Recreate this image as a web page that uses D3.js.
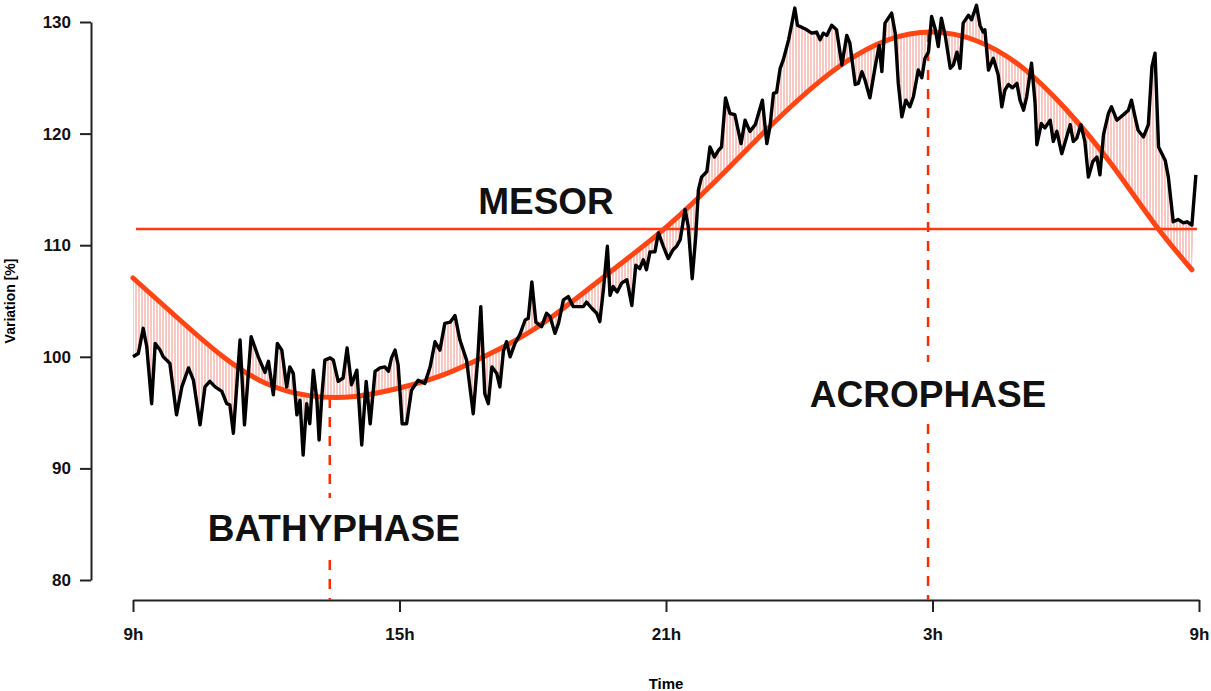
<!DOCTYPE html>
<html>
<head>
<meta charset="utf-8">
<script src="https://cdn.jsdelivr.net/npm/d3@7"></script>
<style>
  body { margin: 0; background: #fff; }
  text { font-family: "Liberation Sans", Arial, sans-serif; font-weight: bold; }
</style>
</head>
<body>
<svg id="chart" width="1211" height="691"></svg>
<script>
// hours since 9h and measured variation (%)
const obsHours = [0, 0.12, 0.23, 0.31, 0.42, 0.50, 0.61, 0.68, 0.76, 0.83, 0.98, 1.10, 1.25, 1.36, 1.51, 1.62, 1.73, 1.85, 2.00, 2.11, 2.18, 2.26, 2.41, 2.51, 2.66, 2.82, 2.97, 3.05, 3.16, 3.25, 3.35, 3.46, 3.53, 3.61, 3.69, 3.76, 3.83, 3.91, 3.98, 4.06, 4.14, 4.19, 4.25, 4.32, 4.44, 4.51, 4.62, 4.73, 4.82, 4.92, 5.04, 5.15, 5.25, 5.34, 5.45, 5.56, 5.67, 5.75, 5.82, 5.90, 5.97, 6.06, 6.16, 6.27, 6.42, 6.57, 6.69, 6.80, 6.91, 7.02, 7.14, 7.25, 7.36, 7.51, 7.66, 7.76, 7.83, 7.92, 8.00, 8.08, 8.19, 8.26, 8.34, 8.41, 8.49, 8.60, 8.71, 8.83, 8.90, 8.98, 9.07, 9.20, 9.31, 9.39, 9.50, 9.58, 9.69, 9.80, 9.91, 10.02, 10.14, 10.21, 10.33, 10.44, 10.51, 10.59, 10.68, 10.74, 10.81, 10.90, 11.00, 11.12, 11.23, 11.32, 11.41, 11.49, 11.56, 11.64, 11.75, 11.83, 11.94, 12.05, 12.16, 12.24, 12.32, 12.43, 12.50, 12.59, 12.67, 12.73, 12.80, 12.92, 12.99, 13.09, 13.18, 13.25, 13.34, 13.44, 13.55, 13.69, 13.78, 13.89, 14.01, 14.17, 14.27, 14.34, 14.42, 14.49, 14.57, 14.64, 14.76, 14.84, 14.90, 14.96, 15.02, 15.17, 15.28, 15.39, 15.47, 15.54, 15.62, 15.73, 15.84, 15.96, 16.07, 16.14, 16.26, 16.33, 16.41, 16.48, 16.59, 16.71, 16.80, 16.86, 16.93, 17.08, 17.16, 17.23, 17.31, 17.40, 17.49, 17.57, 17.68, 17.76, 17.83, 17.91, 17.98, 18.06, 18.13, 18.20, 18.29, 18.40, 18.47, 18.55, 18.62, 18.69, 18.81, 18.88, 18.99, 19.07, 19.14, 19.18, 19.26, 19.37, 19.48, 19.56, 19.63, 19.71, 19.80, 19.90, 19.97, 20.05, 20.12, 20.23, 20.31, 20.35, 20.45, 20.53, 20.65, 20.72, 20.80, 20.91, 21.02, 21.10, 21.17, 21.25, 21.34, 21.43, 21.51, 21.61, 21.70, 21.77, 21.85, 21.96, 22.03, 22.15, 22.30, 22.41, 22.48, 22.56, 22.63, 22.75, 22.86, 22.94, 23.01, 23.09, 23.24, 23.31, 23.42, 23.53, 23.65, 23.73, 23.84, 23.93];
const obsValues = [100.0, 100.3, 102.55, 100.9, 95.8, 101.2, 100.6, 100.0, 99.7, 99.4, 94.8, 97.3, 99.0, 97.9, 93.9, 97.3, 97.8, 97.3, 96.9, 95.8, 95.7, 93.15, 101.5, 93.9, 101.8, 100.0, 98.6, 99.6, 96.6, 101.2, 100.6, 97.3, 99.1, 98.5, 94.8, 96.1, 91.2, 95.8, 94.0, 98.8, 96.1, 92.55, 96.4, 99.7, 99.9, 99.7, 97.8, 98.1, 100.8, 97.5, 98.8, 92.1, 97.8, 94.0, 98.7, 99.0, 99.1, 98.7, 99.9, 100.6, 99.25, 94.0, 94.0, 97.0, 97.9, 97.6, 99.1, 101.35, 100.6, 103.0, 103.1, 103.7, 101.5, 99.7, 94.9, 99.7, 104.5, 96.7, 95.8, 99.1, 98.5, 97.3, 100.5, 101.35, 100.0, 101.2, 102.0, 103.3, 103.45, 106.7, 103.1, 102.7, 103.9, 103.6, 102.1, 103.0, 105.1, 105.4, 104.5, 104.5, 104.5, 104.9, 104.35, 103.9, 103.15, 106.0, 109.9, 105.5, 106.3, 105.8, 106.6, 106.9, 104.6, 108.2, 107.9, 108.7, 107.8, 109.4, 109.4, 111.1, 109.9, 108.8, 109.6, 109.9, 110.5, 113.2, 111.7, 107.0, 110.8, 114.95, 116.1, 116.6, 118.8, 117.9, 118.5, 118.8, 123.2, 121.8, 121.7, 119.1, 121.2, 120.2, 120.8, 123.0, 119.1, 120.6, 123.6, 123.7, 125.85, 126.6, 128.4, 130.0, 131.25, 129.7, 129.6, 129.3, 129.0, 129.1, 128.4, 129.0, 128.8, 129.7, 129.3, 126.15, 128.8, 128.1, 124.4, 124.5, 125.55, 124.8, 123.2, 126.0, 127.9, 125.55, 129.9, 130.8, 129.0, 124.5, 121.5, 123.0, 122.4, 123.3, 125.7, 125.0, 126.75, 127.3, 130.5, 129.4, 127.8, 130.35, 128.7, 125.85, 126.15, 127.3, 125.85, 129.9, 130.6, 130.2, 131.5, 129.7, 129.1, 129.3, 125.7, 126.75, 125.25, 122.4, 123.9, 124.4, 124.1, 124.5, 123.0, 122.1, 123.3, 126.3, 122.7, 119.0, 120.9, 120.5, 121.2, 119.3, 120.2, 118.2, 119.7, 120.8, 119.3, 119.6, 120.8, 119.3, 116.1, 117.5, 117.9, 116.3, 119.9, 121.8, 122.4, 121.2, 121.7, 122.1, 123.0, 121.5, 120.3, 119.7, 120.8, 126.0, 127.2, 118.8, 117.6, 116.1, 112.1, 112.3, 112.0, 112.1, 111.8, 116.3];

// fitted rhythm curve
const fitHours = [0, 1, 2, 3, 4, 5, 6, 7, 8, 9, 10, 11, 12, 13, 14, 15, 16, 17, 18, 19, 20, 21, 22, 23, 23.84];
const fitValues = [107.06, 103.5, 100.1, 97.6, 96.5, 96.45, 97.2, 98.4, 100.2, 102.4, 105.3, 108.4, 111.6, 115.3, 119.3, 123.1, 126.3, 128.4, 129.1, 128.3, 126.0, 122.2, 117.4, 111.9, 107.8];

const mesor = 111.45;
const bathyphaseHour = 4.43;
const bathyphaseValue = 96.3;
const acrophaseHour = 17.9;
const acrophaseValue = 129.1;

const yTicks = [80, 90, 100, 110, 120, 130];
const xTicks = [0, 6, 12, 18, 24];
const xTickLabels = ["9h", "15h", "21h", "3h", "9h"];

const svg = d3.select("#chart");

const x = d3.scaleLinear().domain([0, 24]).range([133, 1199]);
const y = d3.scaleLinear().domain([80, 130]).range([580, 22]);

const obs = obsHours.map((h, i) => [h, obsValues[i]]);
const fit = fitHours.map((h, i) => [h, fitValues[i]]);

// hatch pattern for the residual band
const defs = svg.append("defs");
const pat = defs.append("pattern")
  .attr("id", "hatch")
  .attr("patternUnits", "userSpaceOnUse")
  .attr("width", 3)
  .attr("height", 10);
pat.append("line")
  .attr("x1", 1).attr("x2", 1).attr("y1", 0).attr("y2", 10)
  .attr("stroke", "#f39a92")
  .attr("stroke-width", 1.1);

const obsLine = d3.line().x(d => x(d[0])).y(d => y(d[1]));
const fitLine = d3.line().x(d => x(d[0])).y(d => y(d[1])).curve(d3.curveNatural);

// band = observed path forward + fitted path backward
const backPath = fitLine(fit.slice().reverse());
svg.append("path")
  .attr("d", obsLine(obs) + "L" + backPath.slice(1) + "Z")
  .attr("fill", "url(#hatch)")
  .attr("fill-rule", "evenodd")
  .attr("stroke", "none");

// axes
const yAxis = svg.append("g")
  .attr("transform", "translate(91,0)")
  .call(d3.axisLeft(y).tickValues(yTicks).tickSize(11).tickSizeOuter(0).tickPadding(9));
const xAxis = svg.append("g")
  .attr("transform", "translate(0,600)")
  .call(d3.axisBottom(x).tickValues(xTicks).tickFormat((d, i) => xTickLabels[i])
    .tickSize(12).tickSizeOuter(0).tickPadding(16));
[yAxis, xAxis].forEach(g => {
  g.select(".domain").attr("stroke", "#222").attr("stroke-width", 2);
  g.selectAll(".tick line").attr("stroke", "#222").attr("stroke-width", 2);
  g.selectAll(".tick text").attr("fill", "#111").style("font-size", "17px")
    .style("font-family", "'Liberation Sans', Arial, sans-serif").style("font-weight", "bold");
});

svg.append("text")
  .attr("transform", "translate(15,301) rotate(-90)")
  .attr("text-anchor", "middle")
  .style("font-size", "14px")
  .text("Variation [%]");
svg.append("text")
  .attr("x", 666).attr("y", 689)
  .attr("text-anchor", "middle")
  .style("font-size", "15px")
  .text("Time");

// phase markers
const dash = "10,9";
svg.append("line")
  .attr("x1", x(bathyphaseHour)).attr("x2", x(bathyphaseHour))
  .attr("y1", y(bathyphaseValue)).attr("y2", 498)
  .attr("stroke", "#ff2a00").attr("stroke-width", 2.5).attr("stroke-dasharray", dash);
svg.append("line")
  .attr("x1", x(bathyphaseHour)).attr("x2", x(bathyphaseHour))
  .attr("y1", 560).attr("y2", 600)
  .attr("stroke", "#ff2a00").attr("stroke-width", 2.5).attr("stroke-dasharray", dash);
svg.append("line")
  .attr("x1", x(acrophaseHour)).attr("x2", x(acrophaseHour))
  .attr("y1", y(acrophaseValue)).attr("y2", 362)
  .attr("stroke", "#ff2a00").attr("stroke-width", 2.5).attr("stroke-dasharray", dash);
svg.append("line")
  .attr("x1", x(acrophaseHour)).attr("x2", x(acrophaseHour))
  .attr("y1", 424).attr("y2", 600)
  .attr("stroke", "#ff2a00").attr("stroke-width", 2.5).attr("stroke-dasharray", dash);

// mesor
svg.append("line")
  .attr("x1", 136).attr("x2", 1197)
  .attr("y1", y(mesor)).attr("y2", y(mesor))
  .attr("stroke", "#ff3a10").attr("stroke-width", 2.5);

// fitted curve
svg.append("path")
  .attr("d", fitLine(fit))
  .attr("fill", "none")
  .attr("stroke", "#ff4514")
  .attr("stroke-width", 5)
  .attr("stroke-linecap", "round");

// observed series
svg.append("path")
  .attr("d", obsLine(obs))
  .attr("fill", "none")
  .attr("stroke", "#000")
  .attr("stroke-width", 3.4)
  .attr("stroke-linejoin", "round");

// labels
svg.append("text").attr("x", 546).attr("y", 214).attr("text-anchor", "middle")
  .style("font-size", "37px").attr("fill", "#111").text("MESOR");
svg.append("text").attr("x", x(bathyphaseHour) + 4).attr("y", 541).attr("text-anchor", "middle")
  .style("font-size", "37px").attr("fill", "#111").text("BATHYPHASE");
svg.append("text").attr("x", x(acrophaseHour)).attr("y", 407).attr("text-anchor", "middle")
  .style("font-size", "37px").attr("fill", "#111").text("ACROPHASE");
</script>
</body>
</html>
